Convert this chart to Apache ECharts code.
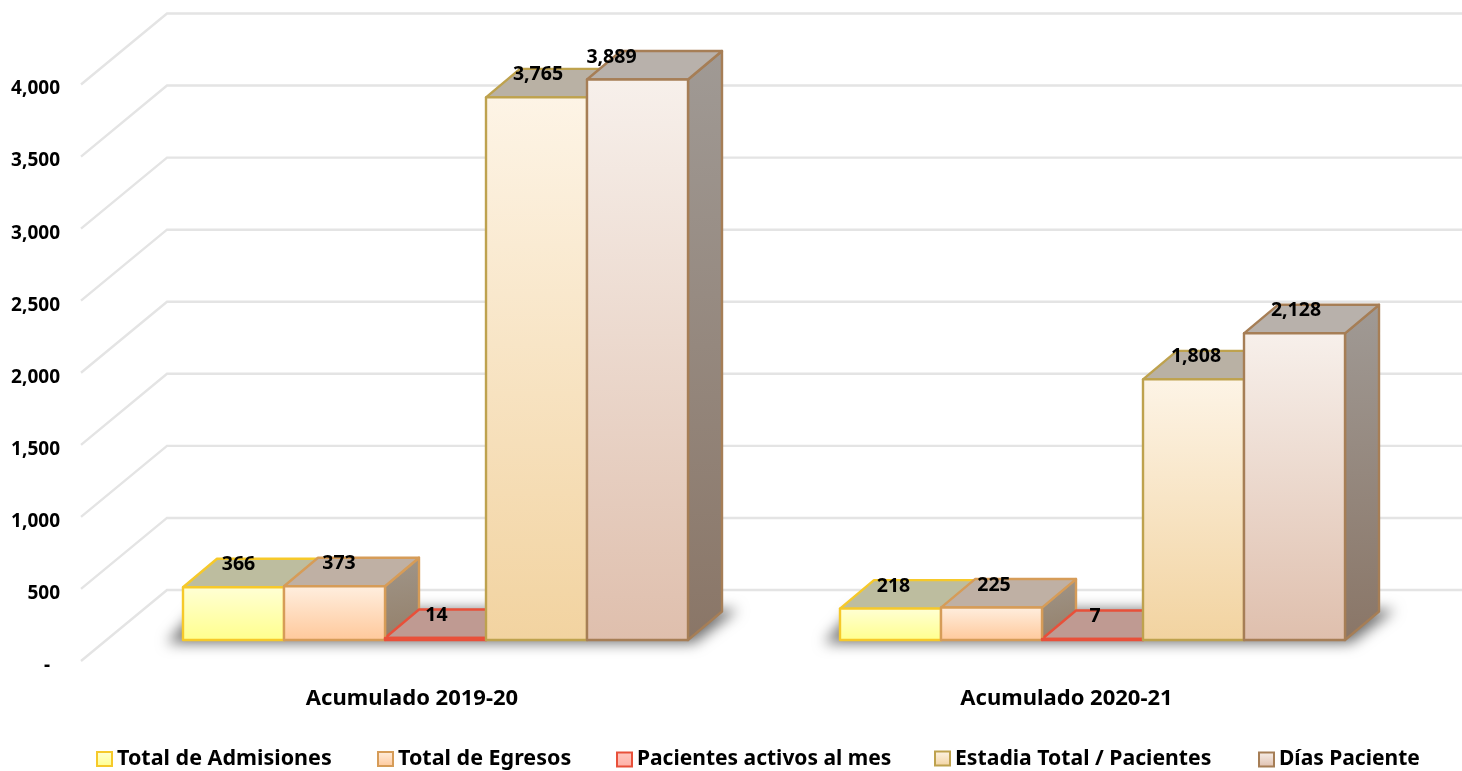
<!DOCTYPE html>
<html><head><meta charset="utf-8">
<style>html,body{margin:0;padding:0;background:#fff}#c{width:1462px;height:771px}</style>
<script src="https://cdn.jsdelivr.net/npm/echarts@6/dist/echarts.min.js"></script>
</head><body><div id="c"></div>
<script>
const categories = ['Acumulado 2019-20', 'Acumulado 2020-21'];
const yTicks = [0, 500, 1000, 1500, 2000, 2500, 3000, 3500, 4000];
const admisiones = [366, 218];
const egresos = [373, 225];
const activos = [14, 7];
const estadia = [3765, 1808];
const diasPaciente = [3889, 2128];

const names = ['Total de Admisiones', 'Total de Egresos', 'Pacientes activos al mes', 'Estadia Total / Pacientes', 'Días Paciente'];
const seriesValues = [admisiones, egresos, activos, estadia, diasPaciente];
const FONT = '"Noto Sans", sans-serif';

const looks = [
  {stroke:'#f6c92a', f0:'#ffffd6', f1:'#ffff8c', top:'#bdbd9f', s0:'#a8a88a', s1:'#8f8f60'},
  {stroke:'#d69c58', f0:'#ffefe0', f1:'#ffc89a', top:'#bfb0a4', s0:'#a0968a', s1:'#94806a'},
  {stroke:'#e8503a', f0:'#ffc8c0', f1:'#ffb0a6', top:'#bf9a92', s0:'#a08078', s1:'#8a6a62'},
  {stroke:'#bea24e', f0:'#fdf4e6', f1:'#f2d3a0', top:'#b9b1a4', s0:'#a09a90', s1:'#8c7c66'},
  {stroke:'#a67e56', f0:'#f7f0eb', f1:'#dfbfad', top:'#b8b1ab', s0:'#a09a95', s1:'#8a7667'}
];
const legendLeft = [96, 377, 616, 934, 1258];
const legendTop = [748, 748, 749, 748, 749];
const legendFont = [21.5, 21.5, 21, 21.2, 21];
const labelNudge = [[5, 3], [4.5, 2.5], [1, 2.5], [1.5, 2.5], [-26, 1.5]];

// Projection of the 3D scene (pixels)
const WALL_DX = 86, WALL_DY = -71;      // front of floor -> back wall
const BAR_DX = 34, BAR_DY = -28.5;      // bar depth
const BASE_DY = -21;                    // front of floor -> bar front plane
const BAR_W = 101, GROUP_SHIFT = 26;

function vGrad(a, b){ return {type:'linear', x:0, y:0, x2:0, y2:1, colorStops:[{offset:0,color:a},{offset:1,color:b}]}; }
function dGrad(a, b){ return {type:'linear', x:0, y:0, x2:0.4, y2:1, colorStops:[{offset:0,color:a},{offset:1,color:b}]}; }

function barRender(si){
  return function(params, api){
    const cat = api.value(0), v = api.value(1);
    const look = looks[si];
    const p0 = api.coord([cat, 0]), pv = api.coord([cat, v]);
    const cx = p0[0] + GROUP_SHIFT + (si - 2) * BAR_W;
    const l = cx - BAR_W / 2, r = cx + BAR_W / 2;
    const b = p0[1] + BASE_DY, t = pv[1] + BASE_DY;
    const line = {stroke:look.stroke, lineWidth:2.4, lineJoin:'round'};
    const poly = (pts, fill, z2) => ({type:'polygon', z2, shape:{points:pts}, style:Object.assign({fill}, line)});
    return {type:'group', children:[
      poly([[r,b],[r+BAR_DX,b+BAR_DY],[r+BAR_DX,t+BAR_DY],[r,t]], dGrad(look.s0, look.s1), 10),
      poly([[l,t],[l+BAR_DX,t+BAR_DY],[r+BAR_DX,t+BAR_DY],[r,t]], look.top, 10),
      poly([[l,t],[r,t],[r,b],[l,b]], vGrad(look.f0, look.f1), 11),
      {type:'text', z2:100, x:cx+labelNudge[si][cat], y:t-22.5, style:{
        text:echarts.format.addCommas(v), fill:'#000', font:'bold 19.5px '+FONT, align:'center', verticalAlign:'middle'}}
    ]};
  };
}

function wallRender(params, api){
  const p = api.coord([0, api.value(0)]);
  const rect = params.coordSys;
  const bx = rect.x, by = p[1];
  const st = {stroke:'#e4e4e4', lineWidth:2.4, fill:null};
  return {type:'polyline', shape:{points:[[bx,by],[bx+WALL_DX,by+WALL_DY],[rect.x+rect.width+WALL_DX,by+WALL_DY]]}, style:st};
}

// Only the blurred shadow of this floor shape is on screen: the shape itself sits off-canvas.
const OFF = 3000;
function shadowRender(params, api){
  const c = api.coord([api.value(0), 0]);
  const cx = c[0] + GROUP_SHIFT, by = c[1] + BASE_DY;
  const hw = BAR_W * 2.5;
  const L = cx - hw, R = cx + hw;
  return {type:'polygon', shape:{points:[
    [L-16-OFF,by+3],[R+6-OFF,by+3],[R+BAR_DX+16-OFF,by+BAR_DY-2],[L+14-OFF,by+BAR_DY-2]
  ]}, style:{fill:'#707070', shadowColor:'#707070', shadowBlur:14, shadowOffsetX:OFF}};
}

const series = [
  {type:'custom', silent:true, z:1, data:yTicks.map(v=>[v]), encode:{y:0}, renderItem:wallRender},
  {type:'custom', silent:true, z:1, data:categories.map((c,i)=>[i]), encode:{x:0}, renderItem:shadowRender}
];
seriesValues.forEach((vals, si) => {
  series.push({type:'custom', name:names[si], z:2, data:vals.map((v,i)=>[i,v]), encode:{x:0,y:1}, renderItem:barRender(si)});
});

const chart = echarts.init(document.getElementById('c'), null, {renderer:'canvas'});
chart.setOption({
  animation:false,
  backgroundColor:'#fff',
  grid:{left:81, top:84.5, width:1314, height:576.5, containLabel:false},
  xAxis:{type:'category', data:categories, axisLine:{show:false}, axisTick:{show:false},
    axisLabel:{margin:27, color:'#000', fontFamily:FONT, fontWeight:'bold', fontSize:22,
      formatter:(v,i) => i === 0 ? '{a|'+v+'}' : v,
      rich:{a:{padding:[0,0,0,5], color:'#000', fontFamily:FONT, fontWeight:'bold', fontSize:22}}}},
  yAxis:{type:'value', min:0, max:4000, interval:500, splitLine:{show:false}, axisLine:{show:false}, axisTick:{show:false},
    axisLabel:{margin:21, color:'#000', fontFamily:FONT, fontWeight:'bold', fontSize:19, verticalAlign:'top', lineHeight:9,
      formatter:v => v === 0 ? '-  ' : echarts.format.addCommas(v)}},
  legend:names.map((n,i)=>({
    left:legendLeft[i], top:legendTop[i], padding:0, itemWidth:15, itemHeight:14, itemGap:6, icon:'rect',
    textStyle:{color:'#000', fontFamily:FONT, fontWeight:'bold', fontSize:legendFont[i], padding:0},
    selectedMode:false,
    data:[{name:n, icon:'rect', itemStyle:{color:vGrad(looks[i].f0, looks[i].f1), borderColor:looks[i].stroke, borderWidth:2}}]
  })),
  series
});
</script></body></html>
